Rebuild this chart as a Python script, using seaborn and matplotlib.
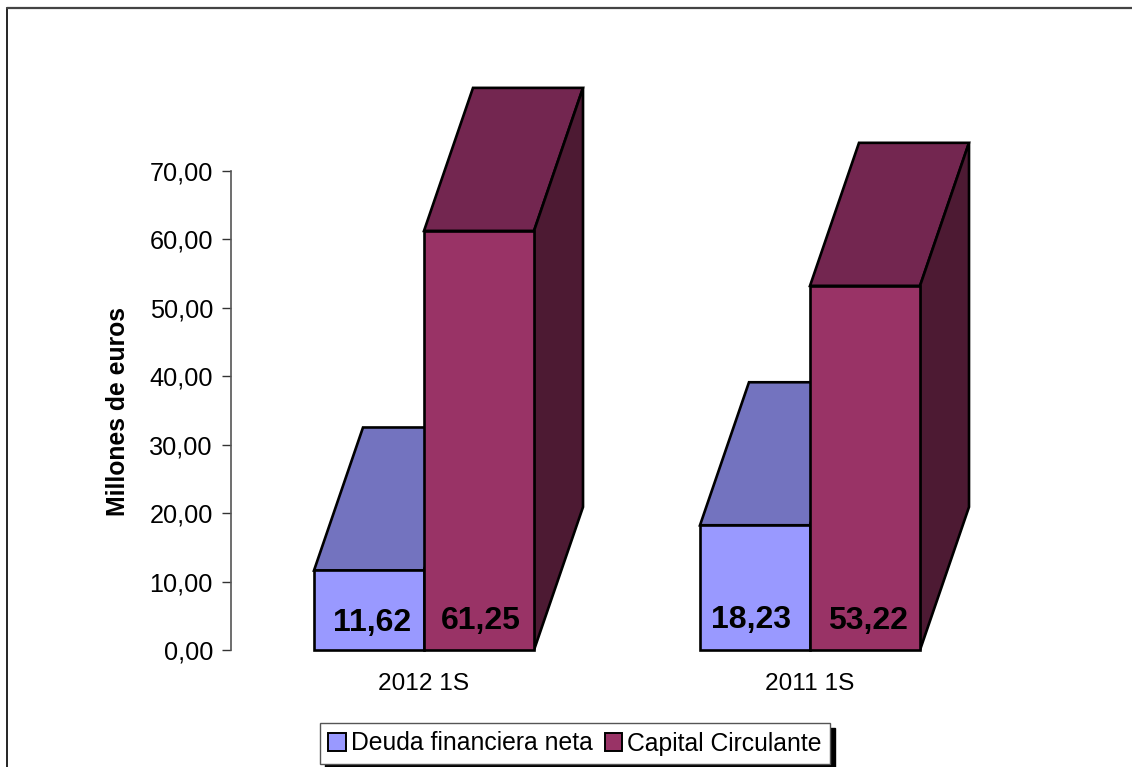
import matplotlib
matplotlib.use("Agg")
import matplotlib.pyplot as plt
from matplotlib.lines import Line2D
from matplotlib.patches import Polygon, Patch
import pandas as pd
import seaborn as sns

periodos = ["2012 1S", "2011 1S"]
deuda = [11.62, 18.23]
capital = [61.25, 53.22]
series = ["Deuda financiera neta", "Capital Circulante"]
y_ticks = [0, 10, 20, 30, 40, 50, 60, 70]
y_labels = ["0,00", "10,00", "20,00", "30,00", "40,00", "50,00", "60,00", "70,00"]

colores = {"Deuda financiera neta": "#9999FF", "Capital Circulante": "#993366"}
colores_top = {"Deuda financiera neta": "#7373BF", "Capital Circulante": "#732650"}
colores_lado = {"Deuda financiera neta": "#4D4D80", "Capital Circulante": "#4D1A33"}

W, H = 1132, 767

sns.set_style("white")
plt.rcParams["font.family"] = ["Liberation Sans", "DejaVu Sans"]

df = pd.DataFrame({
    "periodo": periodos * 2,
    "valor": deuda + capital,
    "serie": [series[0]] * 2 + [series[1]] * 2,
})

fig = plt.figure(figsize=(W / 100, H / 100), dpi=100)
ax = fig.add_axes([231 / W, 117 / H, 772 / W, 479 / H])

sns.barplot(data=df, x="periodo", y="valor", hue="serie", order=periodos, hue_order=series,
            palette=colores, saturation=1, width=0.57, edgecolor="black", linewidth=1.9,
            legend=False, ax=ax)

ax.set_xlim(-0.5, 1.5)
ax.set_ylim(0, 70)

# profundidad del falso 3D, en unidades de datos
prof_x = 49 / 386
prof_y = 143 / (479 / 70)

for i, cont in enumerate(ax.containers):
    nombre = series[i]
    for bar in cont:
        x0 = bar.get_x()
        x1 = x0 + bar.get_width()
        h = bar.get_height()
        bar.set_zorder(2 + i * 2)
        bar.set_clip_on(False)
        top = Polygon([(x0, h), (x1, h), (x1 + prof_x, h + prof_y), (x0 + prof_x, h + prof_y)],
                      closed=True, facecolor=colores_top[nombre], edgecolor="black",
                      linewidth=1.9, zorder=1 + i * 2, clip_on=False)
        lado = Polygon([(x1, 0), (x1 + prof_x, prof_y), (x1 + prof_x, h + prof_y), (x1, h)],
                       closed=True, facecolor=colores_lado[nombre], edgecolor="black",
                       linewidth=1.9, zorder=1 + i * 2, clip_on=False)
        ax.add_patch(top)
        ax.add_patch(lado)

# etiquetas de valor, con pequeños ajustes en pixeles (serie, periodo)
ajustes = [[(3, 27.5), (-4, 30)], [(2, 29), (3, 29)]]
for i, cont in enumerate(ax.containers):
    for j, bar in enumerate(cont):
        dx, dy = ajustes[i][j]
        ax.annotate(f"{bar.get_height():.2f}".replace(".", ","),
                    (bar.get_x() + bar.get_width() / 2, 0),
                    xytext=(dx * 0.72, dy * 0.72), textcoords="offset points",
                    ha="center", va="center", fontsize=23, fontweight="bold",
                    color="black", zorder=10, annotation_clip=False)

sns.despine(ax=ax, top=True, right=True, bottom=True)
ax.spines["left"].set_color("#555555")
ax.spines["left"].set_linewidth(1.2)
ax.set_yticks(y_ticks)
ax.set_yticklabels(y_labels, fontsize=18.2, color="black")
ax.tick_params(axis="y", left=True, length=6.5, width=1, color="#333333", pad=6.5)
ax.tick_params(axis="x", bottom=False, length=0, pad=16.5)
ax.set_xticks(range(len(periodos)))
ax.set_xticklabels(periodos, fontsize=17.6, color="black")
ax.set_xlabel("")
ax.set_ylabel("")
fig.text(118 / W, 1 - 412 / H, "Millones de euros", rotation=90, ha="center", va="center",
         fontsize=17.8, fontweight="bold", color="black")

handles = [Patch(facecolor=colores[s], edgecolor="black", linewidth=1.4, label=s) for s in series]
fig.legend(handles=handles, loc="center", bbox_to_anchor=(575 / W, 1 - 743.5 / H), ncol=2,
           fontsize=17.8, labelcolor="black", frameon=True, fancybox=False, framealpha=1,
           edgecolor="#555555", shadow={"ox": 3.6, "oy": -3.6, "color": "black", "alpha": 1},
           handlelength=0.7, handleheight=0.7, handletextpad=0.2, columnspacing=0.5,
           borderpad=0.33, borderaxespad=0)

# marco exterior del grafico
fig.add_artist(Line2D([7 / W, 7 / W], [0, 1 - 8 / H], color="black", linewidth=1.2))
fig.add_artist(Line2D([7 / W, 1], [1 - 8 / H, 1 - 8 / H], color="#444444", linewidth=1.6))

fig.savefig("out.png", dpi=100, facecolor="white")
